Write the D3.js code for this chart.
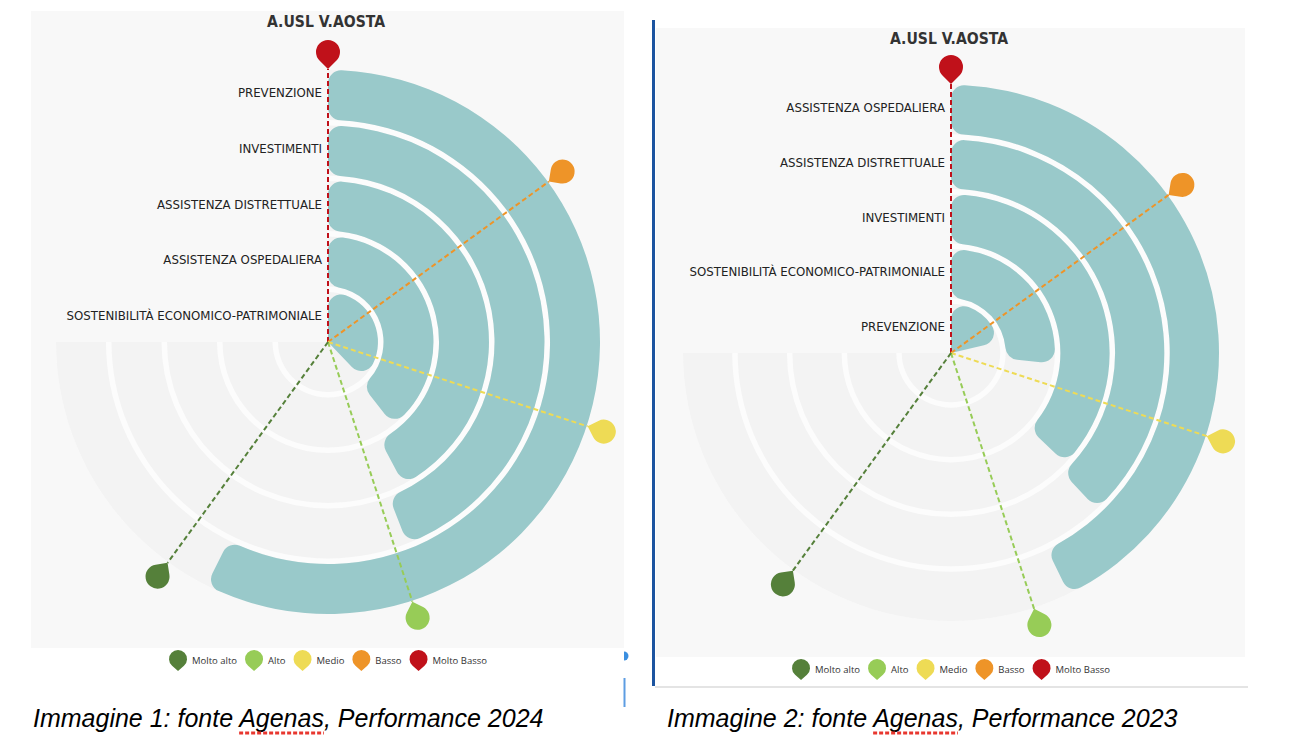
<!DOCTYPE html>
<html>
<head>
<meta charset="utf-8">
<script src="https://cdn.jsdelivr.net/npm/d3@7"></script>
<style>
  body { margin: 0; background: #fff; }
  svg { display: block; }
</style>
</head>
<body>
<svg id="chart" width="1302" height="750"></svg>
<script>
// 2024 panel, outer ring first (values on a 0-100 scale, full scale = 270 degrees)
const categories2024 = ["PREVENZIONE", "INVESTIMENTI", "ASSISTENZA DISTRETTUALE", "ASSISTENZA OSPEDALIERA", "SOSTENIBILITÀ ECONOMICO-PATRIMONIALE"];
const values2024 = [76.5, 58.7, 56.3, 52.5, 50.5];

// 2023 panel, outer ring first
const categories2023 = ["ASSISTENZA OSPEDALIERA", "ASSISTENZA DISTRETTUALE", "INVESTIMENTI", "SOSTENIBILITÀ ECONOMICO-PATRIMONIALE", "PREVENZIONE"];
const values2023 = [57, 50.7, 49.6, 35.5, 28.5];

// performance levels and where their pins sit on the same scale
const levels = ["Molto Basso", "Basso", "Medio", "Alto", "Molto alto"];
const thresholds = [0, 20, 40, 60, 80];
const levelColors = ["#c0111a", "#ee9428", "#eedb55", "#97cc57", "#55803a"];
const legendOrder = ["Molto alto", "Alto", "Medio", "Basso", "Molto Basso"];

const title = "A.USL V.AOSTA";
const captions = ["Immagine 1: fonte Agenas, Performance 2024", "Immagine 2: fonte Agenas, Performance 2023"];

const svg = d3.select("#chart");
const labelFont = "'Liberation Sans Narrow', 'DejaVu Sans Condensed', sans-serif";
const colorOf = d3.scaleOrdinal().domain(levels).range(levelColors);

// teardrop with the tip at 0,0 and the round body above it
function pinPath(r, d) {
  const a = Math.asin(r / d), t = Math.sqrt(d * d - r * r);
  const x = t * Math.sin(a), y = -t * Math.cos(a);
  return `M0,0L${-x},${y}A${r},${r} 0 1 1 ${x},${y}Z`;
}

// background cards, divider and the little UI leftovers between the two images
svg.append("rect").attr("x", 31).attr("y", 11).attr("width", 593).attr("height", 637).attr("fill", "#f8f8f8");
svg.append("rect").attr("x", 656).attr("y", 28).attr("width", 589).attr("height", 629).attr("fill", "#f8f8f8");
svg.append("line").attr("x1", 653.5).attr("x2", 653.5).attr("y1", 20).attr("y2", 686)
  .attr("stroke", "#1c54a0").attr("stroke-width", 3);
svg.append("line").attr("x1", 655).attr("x2", 1248).attr("y1", 687).attr("y2", 687)
  .attr("stroke", "#e4e4e4").attr("stroke-width", 2);
svg.append("path").attr("d", d3.arc()({innerRadius: 0, outerRadius: 4.5, startAngle: 0, endAngle: Math.PI}))
  .attr("transform", "translate(624,656)").attr("fill", "#3b8fe0");
svg.append("line").attr("x1", 624.5).attr("x2", 624.5).attr("y1", 678).attr("y2", 707)
  .attr("stroke", "#5d9de2").attr("stroke-width", 2);

function drawPanel(cx, cy, R, titleY, cats, vals) {
  const g = svg.append("g").attr("transform", `translate(${cx},${cy})`);

  const angle = d3.scaleLinear().domain([0, 100]).range([0, 1.5 * Math.PI]);
  const radius = d3.scaleBand().domain(cats).range([R, 0]).paddingInner(0.1);
  const bw = radius.bandwidth();

  const arc = d3.arc()
    .innerRadius(d => radius(d.cat))
    .outerRadius(d => radius(d.cat) + bw)
    .startAngle(0);

  const rows = cats.map((c, i) => ({cat: c, value: vals[i]}));

  // white gaps, then the grey tracks over the full 270 degrees
  g.append("path")
    .attr("d", d3.arc()({innerRadius: 0, outerRadius: R, startAngle: 0, endAngle: angle(100)}))
    .attr("fill", "#fcfcfc");
  g.selectAll(".track").data(rows).enter().append("path")
    .attr("class", "track")
    .attr("d", d => arc.endAngle(angle(100)).cornerRadius(0)(d))
    .attr("fill", "#f3f3f3");

  // the bars
  g.selectAll(".bar").data(rows).enter().append("path")
    .attr("class", "bar")
    .attr("d", d => arc.endAngle(angle(d.value)).cornerRadius(13)(d))
    .attr("fill", "#99c9ca");

  // level lines and pins
  const marks = levels.map((l, i) => ({level: l, value: thresholds[i]}));
  const tipR = R + 1;
  g.selectAll(".level").data(marks).enter().append("line")
    .attr("class", "level")
    .attr("x1", 0).attr("y1", 0)
    .attr("x2", d => Math.sin(angle(d.value)) * tipR)
    .attr("y2", d => -Math.cos(angle(d.value)) * tipR)
    .attr("stroke", d => colorOf(d.level))
    .attr("stroke-width", 2)
    .attr("stroke-dasharray", "5,3");
  g.selectAll(".pin").data(marks).enter().append("path")
    .attr("class", "pin")
    .attr("d", pinPath(12, 17))
    .attr("transform", d => `translate(${Math.sin(angle(d.value)) * tipR},${-Math.cos(angle(d.value)) * tipR}) rotate(${angle(d.value) * 180 / Math.PI})`)
    .attr("fill", d => colorOf(d.level));

  // category labels on the left of the zero line
  g.selectAll(".label").data(rows).enter().append("text")
    .attr("class", "label")
    .attr("x", -6)
    .attr("y", d => -(radius(d.cat) + bw / 2) - 2)
    .attr("text-anchor", "end")
    .attr("dominant-baseline", "central")
    .attr("font-family", labelFont)
    .attr("font-size", 13.1)
    .attr("fill", "#222")
    .text(d => d.cat);

  g.append("text")
    .attr("x", -2).attr("y", titleY - cy)
    .attr("text-anchor", "middle")
    .attr("dominant-baseline", "central")
    .attr("font-family", labelFont)
    .attr("font-weight", "bold")
    .attr("font-size", 15.6)
    .attr("fill", "#333")
    .text(title);
}

function drawLegend(cx, y) {
  const g = svg.append("g");
  const items = g.selectAll("g").data(legendOrder).enter().append("g");
  items.append("path")
    .attr("d", pinPath(9, 12))
    .attr("fill", d => colorOf(d));
  items.append("text")
    .attr("x", 14).attr("y", -7)
    .attr("font-family", "'Open Sans', sans-serif")
    .attr("font-size", 9.5)
    .attr("fill", "#333")
    .text(d => d);
  // lay the items out one after the other, then centre the row under the chart
  let x = 0;
  items.each(function () {
    const w = d3.select(this).select("text").node().getComputedTextLength();
    d3.select(this).attr("transform", `translate(${x},0)`);
    x += 14 + w + 17;
  });
  const total = x - 17 + 9;
  g.attr("transform", `translate(${cx - total / 2 + 9},${y})`);
}

function drawCaption(x, y, text) {
  const t = svg.append("text")
    .attr("x", x).attr("y", y)
    .attr("font-family", "'Liberation Sans', Arial, sans-serif")
    .attr("font-style", "italic")
    .attr("font-size", 25)
    .attr("fill", "#000")
    .text(text);
  // spell-check underline under "Agenas"
  const i = text.indexOf("Agenas");
  const node = t.node();
  const x0 = node.getStartPositionOfChar(i).x;
  const w = node.getSubStringLength(i, 6);
  svg.append("line")
    .attr("x1", x0).attr("x2", x0 + w)
    .attr("y1", y + 6).attr("y2", y + 6)
    .attr("stroke", "#e8372f").attr("stroke-width", 3)
    .attr("stroke-dasharray", "4,2");
}

drawPanel(328, 342, 272, 22, categories2024, values2024);
drawPanel(951, 353, 268, 39, categories2023, values2023);
drawLegend(328, 671);
drawLegend(951, 680);
drawCaption(33, 727, captions[0]);
drawCaption(667, 727, captions[1]);
</script>
</body>
</html>
